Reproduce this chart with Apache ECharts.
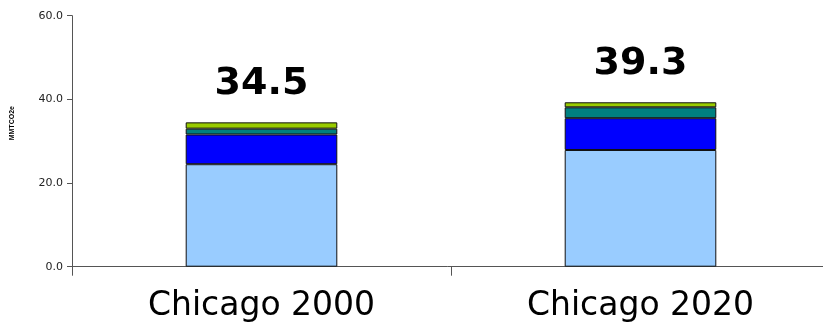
<!DOCTYPE html>
<html>
<head>
<meta charset="utf-8">
<script src="https://cdn.jsdelivr.net/npm/echarts@6/dist/echarts.min.js"></script>
<style>html,body{margin:0;padding:0;background:#fff;}#c{width:823px;height:325px;}</style>
</head>
<body>
<div id="c"></div>
<script>
var categories = ['Chicago 2000', 'Chicago 2020'];
var seriesLightBlue = [24.5, 27.9];
var seriesBlue = [7.1, 7.6];
var seriesTeal = [1.4, 2.6];
var seriesGreen = [1.5, 1.2];
var totals = [34.5, 39.3];
var yTicks = { min: 0, max: 60, interval: 20 };
var yName = 'MMTCO2e';

var chart = echarts.init(document.getElementById('c'), null, { renderer: 'canvas' });
var border = { borderColor: '#111', borderWidth: 1 };
function mk(name, data, color, extra) {
  var s = {
    name: name, type: 'bar', stack: 'total', data: data, barWidth: '40%',
    itemStyle: Object.assign({ color: color }, border),
    emphasis: { disabled: true }, animation: false
  };
  return Object.assign(s, extra || {});
}
chart.setOption({
  animation: false,
  grid: { left: 72, width: 758, top: 15.7, bottom: 58.3, containLabel: false, outerBoundsMode: 'none' },
  xAxis: {
    type: 'category', data: categories,
    axisLine: { lineStyle: { color: '#555', width: 1 } },
    axisTick: { show: true, length: 9, alignWithLabel: false, lineStyle: { color: '#555' } },
    axisLabel: { color: '#000', fontFamily: 'DejaVu Sans', fontSize: 33, margin: 23, interval: 0 }
  },
  yAxis: {
    type: 'value', min: yTicks.min, max: yTicks.max, interval: yTicks.interval,
    name: yName, nameLocation: 'middle', nameRotate: 90, nameGap: 56,
    nameTextStyle: { fontFamily: 'Liberation Sans', fontWeight: 'bold', fontSize: 7, color: '#000', padding: [0, 0, 0, 36] },
    axisLine: { show: true, lineStyle: { color: '#555', width: 1 } },
    axisTick: { show: true, length: 5, lineStyle: { color: '#555' } },
    splitLine: { show: false },
    axisLabel: { color: '#222', fontFamily: 'DejaVu Sans', fontSize: 11, margin: 9,
      formatter: function (v) { return v.toFixed(1); } }
  },
  series: [
    mk('s1', seriesLightBlue, '#99CCFF'),
    mk('s2', seriesBlue, '#0000FF'),
    mk('s3', seriesTeal, '#008080'),
    mk('s4', seriesGreen, '#99CC00', {
      label: {
        show: true, position: 'top', distance: 19,
        fontFamily: 'DejaVu Sans', fontWeight: 'bold', fontSize: 38, color: '#000',
        formatter: function (p) { return totals[p.dataIndex].toFixed(1); }
      }
    })
  ]
});
</script>
</body>
</html>
